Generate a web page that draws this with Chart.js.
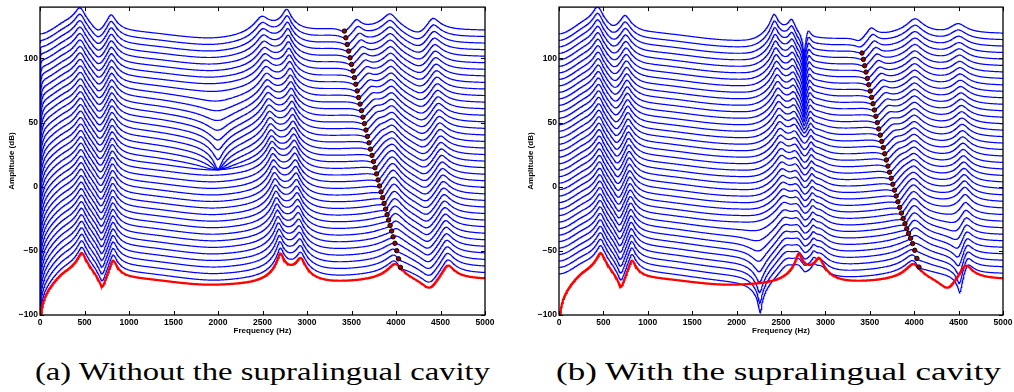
<!DOCTYPE html>
<html>
<head>
<meta charset="utf-8">
<script src="https://cdn.jsdelivr.net/npm/chart.js@4.4.1/dist/chart.umd.min.js"></script>
<style>
  body { margin:0; background:#fff; width:1014px; height:392px; overflow:hidden; position:relative; }
  .panel { position:absolute; top:0; }
  #wrapA { left:0; }
  #wrapB { left:519px; }
  .cap { position:absolute; top:357px; font-family:"Liberation Serif","Times New Roman",serif; font-size:26px;
         white-space:nowrap; transform-origin:left top; color:#000; }
</style>
</head>
<body>
<div class="panel" id="wrapA"><canvas id="chartA" width="505" height="345"></canvas></div>
<div class="panel" id="wrapB"><canvas id="chartB" width="500" height="345"></canvas></div>
<div class="cap" id="capA">(a) Without the supralingual cavity</div>
<div class="cap" id="capB">(b) With the supralingual cavity</div>
<script>
/* waterfall of vocal-tract spectra, two panels */

const X_TICKS = [0, 500, 1000, 1500, 2000, 2500, 3000, 3500, 4000, 4500, 5000];
const Y_TICKS = [-100, -50, 0, 50, 100];
const Y_MIN = -100, Y_MAX = 140;

const N_BLUE = 38;        // blue curves per panel
const FIRST_OFFSET = 4.5; // dB above the red curve for the lowest blue one
const STEP_DB = 5.05;     // dB between stacked curves
const HZ_STEP = 5;

// smooth floor of the spectrum (red reference)
const BASE_HZ = [0, 300, 1000, 2000, 3000, 4000, 5000];
const BASE_DB = [-74, -68, -72.5, -77.5, -77, -74, -72.5];
const RED_DIVE_HZ = 300;

// red curve: [Hz, dB (neg = notch), width]
const RED_FEAT = [
  [470, 19, 300], [700, -16, 180], [820, 17, 200],
  [2700, 21.5, 300], [2930, 17, 250],
  [3990, 14, 300], [4380, -11, 250], [4580, 14, 250]
];

// blue curves: [Hz bottom, Hz top, dB bottom, dB top, width]
const BLUE_A = [
  [470, 449, 19, 17, 300], [700, 655, -16, -8.5, 180], [820, 798, 17, 14.5, 200],
  [2700, 2490, 21.5, 14, 300], [2930, 2772, 17, 17.5, 250], [3300, 3300, 0, 5, 600],
  [3990, 3933, 14, 14, 300], [4380, 4265, -11, -7.5, 250], [4580, 4412, 14, 13, 250]
];
const BLUE_B = [
  [470, 436, 19, 18, 300], [700, 611, -16, -6.3, 180], [820, 743, 17, 13.4, 200],
  [2560, 2421, 12, 20.5, 300], [2700, 2620, 6, 12, 120],
  [2870, 2805, 5, 7, 50], [2950, 2900, 8, 0, 150],
  [3990, 4009, 14, 13, 300], [4600, 4493, 14, 8.3, 200]
];
// notches that sharpen around one curve: [Hz bottom, Hz top, width, curve, depth, dB/curve below, dB/curve above, min depth]
const FOCUS_A = [[2000, 2000, 350, 21, 22, 5, 2.5, 1]];
const FOCUS_B = [
  [2265, 2185, 300, 0, 29, 0, 3, 3],
  [2765, 2760, 50, 37, 35, 2, 0, 3],
  [4515, 4366, 200, 0, 22, 0, 2, 1]
];
const TILT_A = 0.45, TILT_B = 0;  // dB per kHz, top curve
const DIVE_A = 300, DIVE_B = 0;   // low-frequency roll-off, bottom curve

// moving notch (black markers), listed top curve -> bottom curve
const DOTS_A = [3420, 3436, 3452, 3468, 3484, 3500, 3516, 3532, 3548, 3564, 3580, 3596, 3612,
  3628, 3645, 3662, 3679, 3696, 3713, 3730, 3747, 3764, 3781, 3798, 3815, 3832, 3849, 3866,
  3883, 3900, 3917, 3934, 3951, 3968, 3988, 4008, 4028, 4050];
const HIDDEN_B = [3380, 3396]; // top two curves, no marker
const DOTS_B = [3412, 3427, 3442, 3457, 3472, 3488, 3504, 3520, 3536, 3552, 3568, 3584, 3600,
  3617, 3634, 3651, 3668, 3686, 3704, 3722, 3740, 3759, 3778, 3797, 3816, 3836, 3856, 3876,
  3896, 3916, 3937, 3959, 3982, 4006, 4030, 4054];
const NOTCH_DB = -4, NOTCH_W = 90, AFTER_HZ = 135, AFTER_DB = 7, AFTER_W = 100;

const BLUE = 'rgb(0,0,255)', RED = 'rgb(255,0,0)';

function bump(f, c, size, w){
  const b = w * Math.pow(10, -Math.abs(size) / 20);
  const d2 = (f - c) * (f - c);
  const v = 10 * Math.log10((d2 + w * w) / (d2 + b * b));
  return size >= 0 ? v : -v;
}
function backbone(f){
  for (let i = 0; i < BASE_HZ.length - 1; i++){
    if (f <= BASE_HZ[i + 1]){
      const u = (f - BASE_HZ[i]) / (BASE_HZ[i + 1] - BASE_HZ[i]);
      const w = (1 - Math.cos(Math.PI * u)) / 2;
      return BASE_DB[i] * (1 - w) + BASE_DB[i + 1] * w;
    }
  }
  return BASE_DB[BASE_DB.length - 1];
}
function dive(f, fc){
  if (fc <= 0) return 0;
  const g = Math.max(f, 2);
  return 20 * Math.log10(g / Math.sqrt(g * g + fc * fc));
}
const mix = (a, b, t) => a + (b - a) * t;

function redDb(f){
  let v = backbone(f) + dive(f, RED_DIVE_HZ);
  RED_FEAT.forEach(([hz, db, w]) => { v += bump(f, hz, db, w); });
  return v;
}
function blueDb(f, k, feats, focus, tilt, diveHz, notchHz){
  const t = k / (N_BLUE - 1);
  let v = backbone(f) + tilt * t * f / 1000 + dive(f, diveHz * Math.pow(1 - t, 1.5));
  v += FIRST_OFFSET + STEP_DB * k;
  feats.forEach(([h0, h1, s0, s1, w]) => { v += bump(f, mix(h0, h1, t), mix(s0, s1, t), w); });
  focus.forEach(([h0, h1, w, kc, depth, below, above, floor]) => {
    const dk = k - kc;
    const d = depth - (dk < 0 ? below * -dk : above * dk);
    v += bump(f, mix(h0, h1, t), -Math.max(floor, d), w);
  });
  v += bump(f, notchHz, NOTCH_DB, NOTCH_W);
  v += bump(f, notchHz + AFTER_HZ, AFTER_DB * t, AFTER_W);
  return v;
}

const FREQ = [];
for (let f = 0; f <= 5000; f += HZ_STEP) FREQ.push(f);

function buildDatasets(feats, focus, tilt, diveHz, notchTopDown, nMarked){
  const sets = [];
  const dots = [];
  for (let k = 0; k < N_BLUE; k++){
    const row = N_BLUE - 1 - k;
    const notchHz = notchTopDown[row];
    sets.push({
      data: FREQ.map(f => ({ x: f, y: blueDb(f, k, feats, focus, tilt, diveHz, notchHz) })),
      borderColor: BLUE, borderWidth: 1.2, pointRadius: 0, order: 2, clip: 0
    });
    if (row >= notchTopDown.length - nMarked){
      dots.push({ x: notchHz, y: blueDb(notchHz, k, feats, focus, tilt, diveHz, notchHz) });
    }
  }
  sets.push({
    data: FREQ.map(f => ({ x: f, y: redDb(f) })),
    borderColor: RED, borderWidth: 2.2, pointRadius: 0, order: 1, clip: 0
  });
  sets.push({
    type: 'scatter', data: dots, order: 0, clip: 0,
    pointRadius: 2.2, backgroundColor: '#9a0000', borderColor: '#000', borderWidth: 1
  });
  return sets;
}

const framePlugin = {
  id: 'frame',
  afterDraw(chart){
    const { ctx, chartArea: a, scales: { x, y } } = chart;
    ctx.save();
    ctx.strokeStyle = '#000';
    ctx.lineWidth = 1.3;
    ctx.strokeRect(a.left, a.top, a.right - a.left, a.bottom - a.top);
    ctx.lineWidth = 1;
    ctx.beginPath();
    X_TICKS.forEach(v => {
      const px = Math.round(x.getPixelForValue(v)) + 0.5;
      ctx.moveTo(px, a.bottom); ctx.lineTo(px, a.bottom - 4);
      ctx.moveTo(px, a.top); ctx.lineTo(px, a.top + 4);
    });
    Y_TICKS.forEach(v => {
      const py = Math.round(y.getPixelForValue(v)) + 0.5;
      ctx.moveTo(a.left, py); ctx.lineTo(a.left + 4, py);
      ctx.moveTo(a.right, py); ctx.lineTo(a.right - 4, py);
    });
    ctx.stroke();
    ctx.restore();
  }
};

const tickFont = { family: '"Liberation Sans", Arial, sans-serif', size: 8.5, weight: 'bold' };
const titleFont = { family: '"Liberation Sans", Arial, sans-serif', size: 8, weight: 'bold' };

function makeChart(id, datasets, padRight){
  return new Chart(document.getElementById(id), {
    type: 'line',
    data: { datasets },
    plugins: [framePlugin],
    options: {
      responsive: false, animation: false, events: [],
      parsing: false, normalized: true,
      layout: { padding: { top: 3, right: padRight, left: 0, bottom: 0 } },
      plugins: { legend: { display: false }, tooltip: { enabled: false } },
      scales: {
        x: {
          type: 'linear', min: 0, max: 5000,
          afterBuildTicks: s => { s.ticks = X_TICKS.map(v => ({ value: v })); },
          afterFit: s => { s.height = 30; },
          grid: { display: false, drawTicks: false }, border: { display: false },
          ticks: { font: tickFont, color: '#000', padding: 3, maxRotation: 0, autoSkip: false,
                   callback: v => String(v) },
          title: { display: true, text: 'Frequency (Hz)', font: titleFont, color: '#000', padding: { top: 0, bottom: 9 } }
        },
        y: {
          type: 'linear', min: Y_MIN, max: Y_MAX,
          afterBuildTicks: s => { s.ticks = Y_TICKS.map(v => ({ value: v })); },
          afterFit: s => { s.width = 40; },
          grid: { display: false, drawTicks: false }, border: { display: false },
          ticks: { font: tickFont, color: '#000', padding: 2,
                   callback: v => v < 0 ? '\u2212' + (-v) : String(v) },
          title: { display: true, text: 'Amplitude (dB)', font: titleFont, color: '#000', padding: { top: 7, bottom: 0 } }
        }
      }
    }
  });
}

makeChart('chartA', buildDatasets(BLUE_A, FOCUS_A, TILT_A, DIVE_A, DOTS_A, DOTS_A.length), 20);
makeChart('chartB', buildDatasets(BLUE_B, FOCUS_B, TILT_B, DIVE_B, HIDDEN_B.concat(DOTS_B), DOTS_B.length), 16);

// captions: centred under each plot, stretched to the printed width
function placeCaption(id, left, width){
  const el = document.getElementById(id);
  const w = el.getBoundingClientRect().width;
  el.style.left = left + 'px';
  el.style.transform = 'scaleX(' + (width / w) + ')';
}
placeCaption('capA', 35, 455);
placeCaption('capB', 556, 445);
</script>
</body>
</html>
